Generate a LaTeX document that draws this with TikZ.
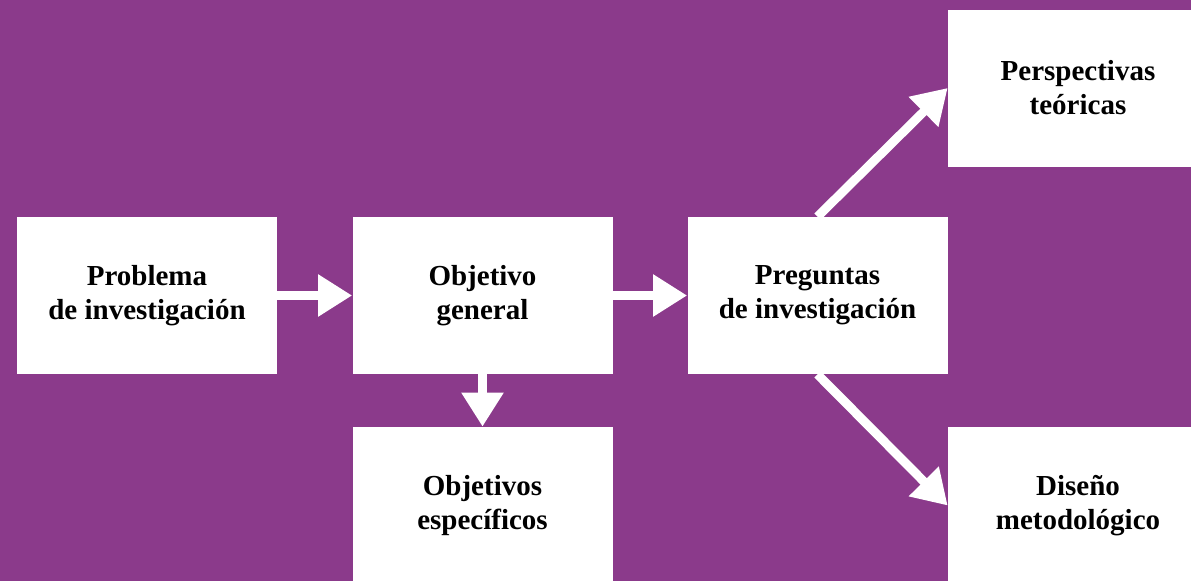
\documentclass[tikz,border=0pt]{standalone}
\usepackage{fontspec}
\setmainfont{Liberation Serif}
\usetikzlibrary{arrows.meta}
\definecolor{plum}{HTML}{8B3A8B}

\tikzset{
  stagebox/.style={fill=white, draw=none, inner sep=0pt, align=center, minimum width=5.2cm, minimum height=3.14cm, font=\fontsize{16.5pt}{19.4pt}\selectfont\bfseries},
  flow/.style={draw=white, line width=0.18cm, -{Triangle[length=0.68cm, width=0.8cm]}}
}

\begin{document}
\begin{tikzpicture}[x=1cm,y=1cm]
\useasboundingbox (0,0) rectangle (23.82,11.62);
\clip (0,0) rectangle (23.82,11.62);
\fill[plum] (0,0) rectangle (23.82,11.62);
\node[stagebox] (problema) at (2.94,5.71) {Problema\\de investigación};
\node[stagebox] (general) at (9.65,5.71) {Objetivo\\general};
\node[stagebox] (preguntas) at (16.35,5.71) {Preguntas\\de investigación};
\node[stagebox] (especificos) at (9.65,1.51) {Objetivos\\específicos};
\node[stagebox] (perspectivas) at (21.56,9.86) {Perspectivas\\teóricas};
\node[stagebox] (diseno) at (21.56,1.51) {Diseño\\metodológico};
\draw[flow] (problema) -- (general);
\draw[flow] (general) -- (preguntas);
\draw[flow] (general.south) -- (especificos.north);
\draw[flow] (preguntas.north) -- (perspectivas.west);
\draw[flow] (preguntas.south) -- (diseno.west);
\end{tikzpicture}
\end{document}
